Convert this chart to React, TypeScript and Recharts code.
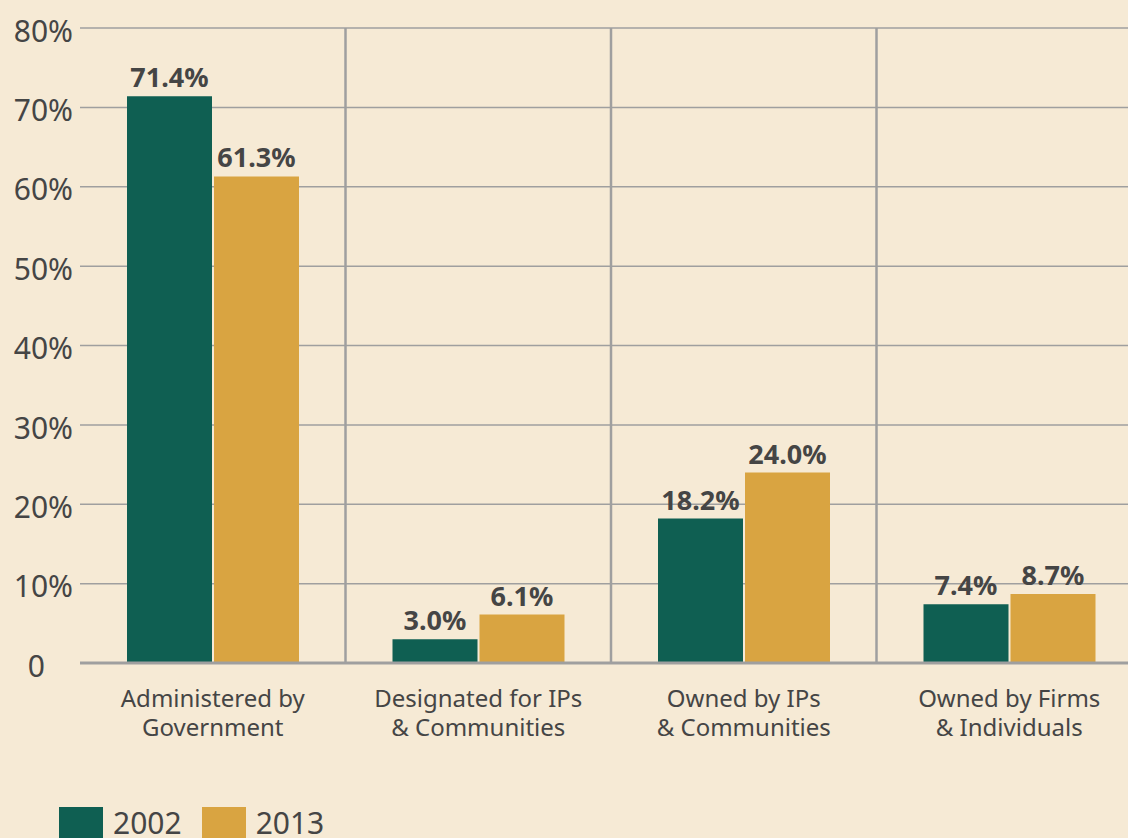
import React from 'react';
import {
  BarChart,
  Bar,
  XAxis,
  YAxis,
  CartesianGrid,
  ReferenceLine,
  LabelList,
  Legend,
} from 'recharts';

const categories = [
  'Administered by\nGovernment',
  'Designated for IPs\n& Communities',
  'Owned by IPs\n& Communities',
  'Owned by Firms\n& Individuals',
];
const values2002 = [71.4, 3.0, 18.2, 7.4];
const values2013 = [61.3, 6.1, 24.0, 8.7];
const yTicks = [0, 10, 20, 30, 40, 50, 60, 70, 80];
const boundaries = [0, 1, 2, 3, 4];
const separators = [1, 2, 3];

const GREEN = '#0F5F52';
const GOLD = '#D9A441';
const BG = '#F6EAD5';
const GRID = '#9f9f9f';
const TEXT = '#454545';
const FONT = '"Noto Sans", Lato, sans-serif';

const data = categories.map((name, i) => ({
  name,
  slot: i + 0.5,
  y2002: values2002[i],
  y2013: values2013[i],
}));

const series = [
  { key: 'y2002', name: '2002', color: GREEN },
  { key: 'y2013', name: '2013', color: GOLD },
];

function YTick({ x, y, payload }: any) {
  const isZero = payload.value === 0;
  return (
    <text
      x={isZero ? x - 28 : x}
      y={y + 3}
      dy="0.355em"
      textAnchor="end"
      fill={TEXT}
      fontSize={30}
      fontFamily={FONT}
    >
      {isZero ? '0' : `${payload.value}%`}
    </text>
  );
}

function CategoryTick({ x, y, payload }: any) {
  const lines = String(payload.value).split('\n');
  return (
    <text x={x} y={y} textAnchor="middle" fill={TEXT} fontSize={24} fontFamily={FONT}>
      {lines.map((line, i) => (
        <tspan key={i} x={x} dy={i === 0 ? 35 : 29}>
          {line}
        </tspan>
      ))}
    </text>
  );
}

function LegendContent() {
  return (
    <div style={{ display: 'flex', alignItems: 'flex-start', fontFamily: FONT, fontSize: 30, color: TEXT }}>
      {series.map((s) => (
        <div key={s.key} style={{ display: 'flex', alignItems: 'flex-start', marginRight: 20 }}>
          <span style={{ display: 'inline-block', width: 44, height: 44, background: s.color, marginRight: 10 }} />
          <span style={{ lineHeight: '30px', marginTop: 1 }}>{s.name}</span>
        </div>
      ))}
    </div>
  );
}

export default function App() {
  return (
    <div
      style={{
        position: 'absolute',
        left: 0,
        top: 0,
        width: 1128,
        height: 838,
        overflow: 'hidden',
        background: BG,
      }}
    >
      <BarChart
        width={1142}
        height={858}
        data={data}
        margin={{ top: 28, right: 0, bottom: 7, left: 0 }}
        barSize={85}
        barGap={2}
      >
        <CartesianGrid vertical={false} stroke={GRID} strokeWidth={1.5} xAxisId={0} />
        <XAxis
          xAxisId={0}
          dataKey="slot"
          type="number"
          domain={[0, 4]}
          ticks={boundaries}
          allowDataOverflow
          height={1}
          tick={false}
          tickSize={8}
          axisLine={{ stroke: GRID, strokeWidth: 3 }}
          tickLine={{ stroke: GRID, strokeWidth: 2.5 }}
        />
        <XAxis
          xAxisId={1}
          dataKey="name"
          height={143}
          axisLine={false}
          tickLine={false}
          interval={0}
          tick={<CategoryTick />}
        />
        <YAxis
          domain={[0, 80]}
          ticks={yTicks}
          interval={0}
          width={80}
          axisLine={false}
          tickLine={false}
          tickSize={0}
          tickMargin={7}
          tick={<YTick />}
        />
        {separators.map((s) => (
          <ReferenceLine key={s} xAxisId={0} x={s} stroke={GRID} strokeWidth={2.5} />
        ))}
        {series.map((s) => (
          <Bar key={s.key} xAxisId={1} dataKey={s.key} name={s.name} fill={s.color} isAnimationActive={false}>
            <LabelList
              dataKey={s.key}
              position="top"
              offset={9}
              formatter={(v: number) => `${v.toFixed(1)}%`}
              fill={TEXT}
              fontSize={27}
              fontWeight="bold"
              fontFamily={FONT}
            />
          </Bar>
        ))}
        <Legend
          verticalAlign="bottom"
          align="left"
          content={<LegendContent />}
          wrapperStyle={{ left: 59, bottom: 7, height: 44 }}
        />
      </BarChart>
    </div>
  );
}
